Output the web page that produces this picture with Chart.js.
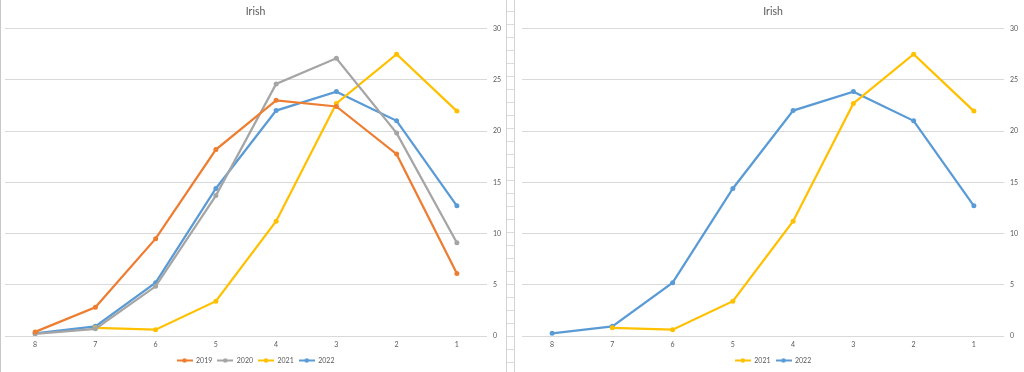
<!DOCTYPE html>
<html>
<head>
<meta charset="utf-8">
<script src="https://cdn.jsdelivr.net/npm/chart.js@4"></script>
<style>
  body { margin: 0; background: #fff; width: 1024px; height: 372px; overflow: hidden; position: relative; }
  .edge { position: absolute; left: 0; top: 0; width: 1px; height: 372px; background: #c8c8c8; }
  .gap {
    position: absolute; left: 506px; top: 0; width: 9px; height: 372px;
    border-left: 1px solid #d4d4d4; border-right: 1px solid #d4d4d4; box-sizing: border-box;
    background: repeating-linear-gradient(to bottom, transparent 0, transparent 11px, #dcdcdc 11px, #dcdcdc 12px, transparent 12px, transparent 13px);
  }
  .box { position: absolute; top: 0; height: 372px; }
  #left { left: 0; width: 506px; }
  #right { left: 514px; width: 510px; }
</style>
</head>
<body>
<div class="edge"></div>
<div class="gap"></div>
<div class="box" id="left"><canvas id="chartLeft" width="506" height="372"></canvas></div>
<div class="box" id="right"><canvas id="chartRight" width="510" height="372"></canvas></div>
<script>
const weeks = ['8', '7', '6', '5', '4', '3', '2', '1'];
const y2019 = [0.4, 2.8, 9.5, 18.2, 23.0, 22.4, 17.75, 6.1];
const y2020 = [0.2, 0.7, 4.85, 13.7, 24.6, 27.1, 19.8, 9.1];
const y2021 = [null, 0.8, 0.62, 3.4, 11.2, 22.7, 27.5, 21.95];
const y2022 = [0.26, 0.94, 5.2, 14.4, 22.0, 23.85, 21.0, 12.7];
const yTicks = [0, 5, 10, 15, 20, 25, 30];

const textGrey = '#595959';
const fontName = 'Lato, "Open Sans", sans-serif';

// little "line with a dot" legend marker, like Excel
function legendIcon(color) {
  const c = document.createElement('canvas');
  c.width = 16; c.height = 7;
  const g = c.getContext('2d');
  g.strokeStyle = color;
  g.lineWidth = 2;
  g.beginPath(); g.moveTo(0, 3.5); g.lineTo(16, 3.5); g.stroke();
  g.fillStyle = color;
  g.beginPath(); g.arc(8, 3.5, 2.2, 0, Math.PI * 2); g.fill();
  return c;
}

function series(label, data, color) {
  return {
    label: label,
    data: data,
    borderColor: color,
    backgroundColor: color,
    borderWidth: 2.25,
    pointRadius: 2.5,
    pointHoverRadius: 2.5,
    pointBorderWidth: 0,
    tension: 0,
    icon: legendIcon(color)
  };
}

function makeChart(id, datasets, padLeft, yWidth) {
  return new Chart(document.getElementById(id), {
    type: 'line',
    data: { labels: weeks, datasets: datasets },
    options: {
      responsive: false,
      animation: false,
      layout: { padding: { left: padLeft, right: 0, top: 2, bottom: 0 } },
      plugins: {
        title: {
          display: true,
          text: 'Irish',
          color: textGrey,
          font: { family: fontName, size: 10.5, weight: 'normal' },
          padding: { top: 3, bottom: 11 }
        },
        legend: {
          position: 'bottom',
          maxHeight: 20,
          labels: {
            usePointStyle: true,
            pointStyleWidth: 16,
            color: textGrey,
            font: { family: fontName, size: 7 },
            padding: 5,
            boxWidth: 16,
            boxHeight: 7,
            generateLabels: (chart) => chart.data.datasets.map((ds, i) => ({
              text: ds.label,
              pointStyle: ds.icon,
              fillStyle: ds.borderColor,
              strokeStyle: ds.borderColor,
              lineWidth: 0,
              fontColor: textGrey,
              datasetIndex: i,
              hidden: false
            }))
          }
        },
        tooltip: { enabled: false }
      },
      scales: {
        x: {
          offset: true,
          grid: { display: false, drawTicks: false },
          border: { display: false },
          ticks: { color: textGrey, font: { family: fontName, size: 7 }, padding: 5 },
          afterFit: (axis) => { axis.height = 16; }
        },
        y: {
          position: 'right',
          min: 0,
          max: 30,
          afterBuildTicks: (axis) => { axis.ticks = yTicks.map(v => ({ value: v })); },
          grid: { color: '#d9d9d9', drawTicks: false },
          border: { display: false },
          ticks: { color: textGrey, font: { family: fontName, size: 7 }, padding: 6 },
          afterFit: (axis) => { axis.width = yWidth; }
        }
      }
    }
  });
}

makeChart('chartLeft', [
  series('2019', y2019, '#ED7D31'),
  series('2020', y2020, '#A5A5A5'),
  series('2021', y2021, '#FFC000'),
  series('2022', y2022, '#5B9BD5')
], 5, 19);

makeChart('chartRight', [
  series('2021', y2021, '#FFC000'),
  series('2022', y2022, '#5B9BD5')
], 8, 20);
</script>
</body>
</html>
